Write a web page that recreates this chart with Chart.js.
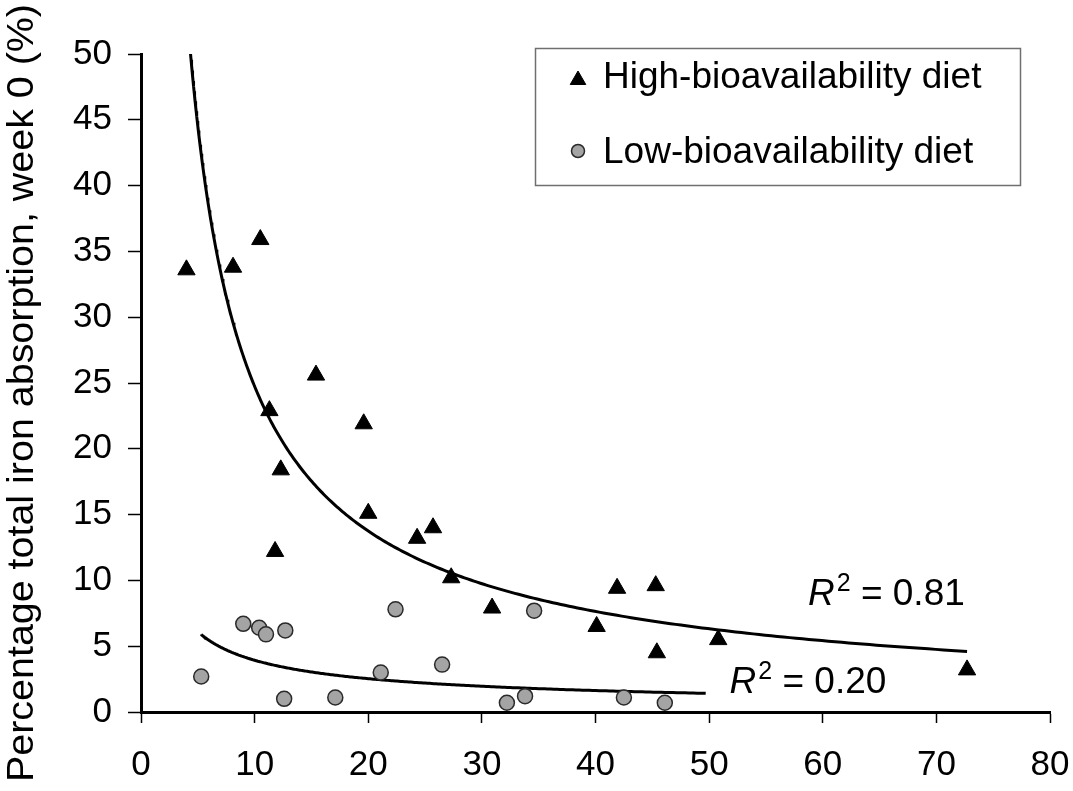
<!DOCTYPE html>
<html><head><meta charset="utf-8">
<script src="https://cdn.jsdelivr.net/npm/chart.js@4.4.0/dist/chart.umd.min.js"></script>
<style>html,body{margin:0;padding:0;background:#fff;}#wrap{width:1073px;height:791px;}</style>
</head><body><div id="wrap"><canvas id="c" width="1073" height="791"></canvas></div>
<script>
// ---- data ----
const xTickValues = [0, 10, 20, 30, 40, 50, 60, 70, 80];
const yTickValues = [0, 5, 10, 15, 20, 25, 30, 35, 40, 45, 50];
const yTitle = 'Percentage total iron absorption, week 0 (%)';

const highLabel = 'High-bioavailability diet';
const highX = [4.0, 8.1, 10.5, 11.3, 11.8, 12.3, 15.4, 19.6, 20.0, 24.3, 25.7, 27.3, 30.9, 40.1, 41.9, 45.3, 45.4, 50.8, 72.7];
const highY = [33.6, 33.8, 35.9, 22.9, 12.2, 18.4, 25.6, 21.9, 15.1, 13.2, 14.0, 10.2, 7.9, 6.5, 9.4, 9.6, 4.5, 5.5, 3.2];

const lowLabel = 'Low-bioavailability diet';
const lowX = [5.3, 9.0, 10.4, 11.0, 12.6, 12.7, 17.1, 21.1, 22.4, 26.5, 32.2, 33.8, 34.6, 42.5, 46.1];
const lowY = [2.7, 6.7, 6.4, 5.9, 1.0, 6.2, 1.1, 3.0, 7.8, 3.6, 0.7, 1.2, 7.7, 1.1, 0.7];

// trend line x-ranges and R² labels as printed on the chart
const highTrendRange = [4.0, 72.7];
const lowTrendRange = [5.3, 49.7];
const r2Labels = ['0.81', '0.20'];
const r2Anchors = [[58.7, 8.1], [51.8, 1.45]]; // data coords of label baseline start

// ---- power-law (y = a·x^b) least-squares fit on logs, as a spreadsheet trendline does ----
function powerFit(xs, ys) {
  const lx = xs.map(Math.log), ly = ys.map(Math.log), n = xs.length;
  const mx = lx.reduce((s, v) => s + v, 0) / n, my = ly.reduce((s, v) => s + v, 0) / n;
  let sxy = 0, sxx = 0;
  for (let i = 0; i < n; i++) { sxy += (lx[i] - mx) * (ly[i] - my); sxx += (lx[i] - mx) ** 2; }
  const b = sxy / sxx, a = Math.exp(my - b * mx);
  return { a, b };
}
function trendPoints(fit, range, n) {
  const pts = [];
  for (let i = 0; i <= n; i++) {
    const x = range[0] * Math.pow(range[1] / range[0], i / n);
    pts.push({ x, y: fit.a * Math.pow(x, fit.b) });
  }
  return pts;
}
const highFit = powerFit(highX, highY);
const lowFit = powerFit(lowX, lowY);

const FONT = '"Liberation Sans", Arial, Helvetica, sans-serif';

const overlay = {
  id: 'overlay',
  afterDraw(chart) {
    const ctx = chart.ctx, xs = chart.scales.x, ys = chart.scales.y;
    ctx.save();
    // y-axis title
    ctx.font = '37px ' + FONT;
    ctx.fillStyle = '#000';
    const w = ctx.measureText(yTitle).width;
    ctx.translate(23, 393);
    ctx.rotate(-Math.PI / 2);
    ctx.scale(778 / w, 1);
    ctx.textAlign = 'center';
    ctx.textBaseline = 'middle';
    ctx.fillText(yTitle, 0, 0);
    ctx.restore();

    // legend box
    ctx.save();
    ctx.strokeStyle = '#6f6f6f';
    ctx.lineWidth = 1.5;
    ctx.strokeRect(535.5, 48.5, 485, 137);
    const entries = chart.data.datasets.filter(d => d.inLegend);
    entries.forEach((d, i) => {
      const cy = i === 0 ? 80 : 151;
      ctx.fillStyle = d.backgroundColor; ctx.strokeStyle = d.borderColor; ctx.lineWidth = d.borderWidth;
      ctx.beginPath();
      if (d.pointStyle === 'circle') { ctx.arc(578, cy, d.legendRadius, 0, Math.PI * 2); }
      else { const r = d.legendRadius; ctx.moveTo(578, cy - r); ctx.lineTo(578 + r * 0.866, cy + r / 2); ctx.lineTo(578 - r * 0.866, cy + r / 2); ctx.closePath(); }
      ctx.fill(); ctx.stroke();
      ctx.fillStyle = '#000';
      ctx.font = '37px ' + FONT;
      ctx.textBaseline = 'alphabetic';
      ctx.textAlign = 'left';
      ctx.fillText(d.label, 603, i === 0 ? 88 : 163);
    });
    ctx.restore();

    // R² annotations
    ctx.save();
    ctx.fillStyle = '#000';
    ctx.textBaseline = 'alphabetic';
    r2Labels.forEach((lab, i) => {
      let x = xs.getPixelForValue(r2Anchors[i][0]);
      const y = ys.getPixelForValue(r2Anchors[i][1]);
      ctx.font = 'italic 37px ' + FONT;
      ctx.fillText('R', x, y);
      x += ctx.measureText('R').width + 2;
      ctx.font = '25px ' + FONT;
      ctx.fillText('2', x, y - 14);
      x += ctx.measureText('2').width;
      ctx.font = '37px ' + FONT;
      ctx.fillText(' = ' + lab, x, y);
    });
    ctx.restore();
  }
};

new Chart(document.getElementById('c'), {
  type: 'scatter',
  data: {
    datasets: [
      {
        label: highLabel, inLegend: true,
        data: highX.map((x, i) => ({ x, y: highY[i] })),
        pointStyle: 'triangle', pointRadius: 10, legendRadius: 9,
        backgroundColor: '#000', borderColor: '#000', borderWidth: 1, order: 1
      },
      {
        label: lowLabel, inLegend: true,
        data: lowX.map((x, i) => ({ x, y: lowY[i] })),
        pointStyle: 'circle', pointRadius: 7.5, legendRadius: 6.5,
        backgroundColor: '#a4a4a4', borderColor: '#2a2a2a', borderWidth: 1.5, order: 1
      },
      {
        label: 'high trend', type: 'line',
        data: trendPoints(highFit, highTrendRange, 300),
        showLine: true, pointRadius: 0, borderColor: '#000', borderWidth: 3, fill: false, tension: 0, order: 2
      },
      {
        label: 'low trend', type: 'line',
        data: trendPoints(lowFit, lowTrendRange, 300),
        showLine: true, pointRadius: 0, borderColor: '#000', borderWidth: 3, fill: false, tension: 0, order: 2
      }
    ]
  },
  options: {
    responsive: false,
    animation: false,
    devicePixelRatio: 1,
    layout: { padding: { top: 54, right: 23, left: 0, bottom: 0 } },
    plugins: { legend: { display: false }, tooltip: { enabled: false } },
    scales: {
      x: {
        type: 'linear', min: 0, max: 80,
        afterBuildTicks: s => { s.ticks = xTickValues.map(v => ({ value: v })); },
        afterFit: s => { s.height = 79; s.paddingLeft = 0; s.paddingRight = 0; },
        ticks: { color: '#000', font: { family: FONT, size: 35 }, padding: 21, autoSkip: false, maxRotation: 0 },
        grid: { drawOnChartArea: false, color: '#000', tickColor: '#000', tickLength: 11, tickWidth: 1.5 },
        border: { color: '#000', width: 3 }
      },
      y: {
        type: 'linear', min: 0, max: 50,
        afterBuildTicks: s => { s.ticks = yTickValues.map(v => ({ value: v })); },
        afterFit: s => { s.width = 141; s.paddingTop = 0; s.paddingBottom = 0; },
        ticks: { color: '#000', font: { family: FONT, size: 35 }, padding: 16, autoSkip: false },
        grid: { drawOnChartArea: false, color: '#000', tickColor: '#000', tickLength: 13, tickWidth: 1.5 },
        border: { color: '#000', width: 3 }
      }
    }
  },
  plugins: [overlay]
});
</script>
</body></html>
